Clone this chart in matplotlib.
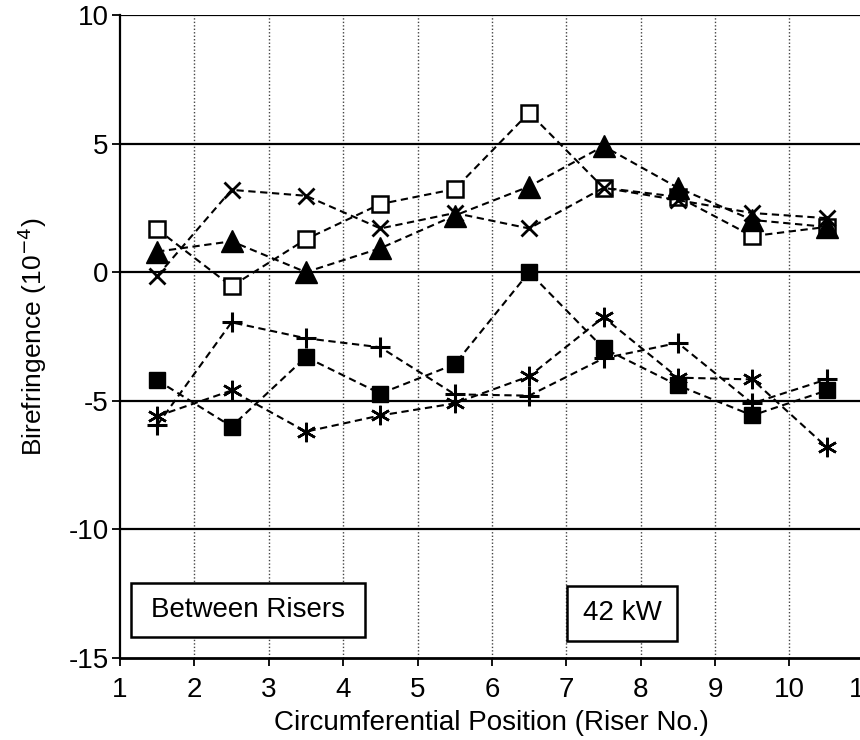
import matplotlib
matplotlib.use("Agg")
import matplotlib.pyplot as plt
from matplotlib.patches import Rectangle

plt.rcParams['font.family'] = ['Liberation Sans', 'DejaVu Sans']

positions = [1.5, 2.5, 3.5, 4.5, 5.5, 6.5, 7.5, 8.5, 9.5, 10.5]
open_square = [1.67, -0.55, 1.28, 2.65, 3.23, 6.2, 3.28, 2.93, 1.4, 1.76]
filled_triangle = [0.8, 1.2, 0.0, 0.93, 2.2, 3.33, 4.9, 3.28, 2.03, 1.76]
cross_x = [-0.15, 3.2, 2.97, 1.7, 2.3, 1.7, 3.28, 2.8, 2.3, 2.1]
filled_square = [-4.2, -6.0, -3.3, -4.72, -3.58, 0.0, -2.96, -4.4, -5.57, -4.6]
plus = [-5.95, -1.95, -2.57, -2.92, -4.75, -4.8, -3.35, -2.75, -5.1, -4.17]
asterisk = [-5.6, -4.6, -6.2, -5.57, -5.1, -4.05, -1.75, -4.1, -4.17, -6.8]

x_ticks = [1, 2, 3, 4, 5, 6, 7, 8, 9, 10, 11]
y_ticks = [-15, -10, -5, 0, 5, 10]

fig = plt.figure(figsize=(8.6, 7.4), dpi=100)
ax = fig.add_axes([0.1395, 0.1108, 0.865, 0.869])
ax.set_xlim(1, 11)
ax.set_ylim(-15, 10)

# grid
for v in [2, 3, 4, 5, 6, 7, 8, 9, 10]:
    ax.axvline(v, color='#444444', lw=1.0, ls=(0, (1, 1.5)), zorder=1)
for v in [-10, -5, 0, 5, 10]:
    ax.axhline(v, color='black', lw=1.6, zorder=1)

line_kw = dict(color='black', lw=1.5, ls=(0, (3.5, 2.2)), zorder=3)
ax.plot(positions, open_square, marker='s', ms=11, mfc='white', mec='black', mew=1.8, **line_kw)
ax.plot(positions, filled_triangle, marker='^', ms=16, mfc='black', mec='black', **line_kw)
ax.plot(positions, cross_x, marker='x', ms=12, mec='black', mew=2.0, **line_kw)
ax.plot(positions, filled_square, marker='s', ms=12, mfc='black', mec='black', **line_kw)
ax.plot(positions, plus, marker='+', ms=14, mec='black', mew=2.2, **line_kw)
ax.plot(positions, asterisk, marker=(6, 2, 0), ms=14, mec='black', mew=1.8, **line_kw)

# spines
for s in ['top', 'right']:
    ax.spines[s].set_visible(False)
ax.spines['left'].set_linewidth(1.6)
ax.spines['bottom'].set_linewidth(2.0)

ax.set_xticks(x_ticks)
ax.set_xticklabels([str(t) for t in x_ticks])
ax.set_yticks(y_ticks)
ax.set_yticklabels([str(t) for t in y_ticks])
ax.tick_params(axis='both', direction='out', length=6, width=1.3, labelsize=20, pad=2)
ax.tick_params(axis='x', pad=8)

ax.set_xlabel('Circumferential Position (Riser No.)', fontsize=20, labelpad=5)
ax.set_ylabel('Birefringence (10$^{-4}$)', fontsize=19, labelpad=14)

# annotation boxes
ax.add_patch(Rectangle((1.15, -14.2), 3.14, 2.1, fill=True, fc='white', ec='black', lw=1.8, zorder=5))
ax.text(1.15 + 3.14 / 2, -13.15, 'Between Risers', ha='center', va='center', fontsize=20, zorder=6)
ax.add_patch(Rectangle((7.01, -14.33), 1.48, 2.14, fill=True, fc='white', ec='black', lw=1.8, zorder=5))
ax.text(7.01 + 1.48 / 2, -13.26, '42 kW', ha='center', va='center', fontsize=20, zorder=6)

fig.savefig('out.png', dpi=100)
